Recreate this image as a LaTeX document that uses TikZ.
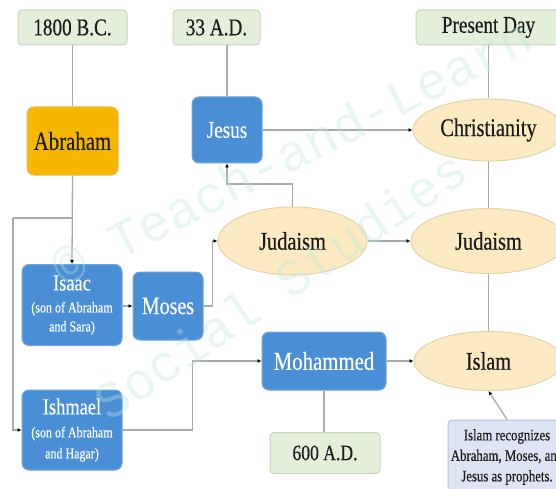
\documentclass[tikz,border=0pt]{standalone}
\usepackage{fontspec}
\setmainfont{Liberation Serif}[FakeStretch=0.8,FakeBold=0.4]
\newfontfamily\wmfont{Liberation Mono}
\usetikzlibrary{arrows.meta,shapes.geometric}
\definecolor{boxblue}{RGB}{74,142,214}
\definecolor{boxblueedge}{RGB}{112,166,224}
\definecolor{abrfill}{RGB}{247,182,0}
\definecolor{abredge}{RGB}{236,186,70}
\definecolor{ellfill}{RGB}{252,235,194}
\definecolor{elledge}{RGB}{226,212,172}
\definecolor{datefill}{RGB}{228,239,218}
\definecolor{dateedge}{RGB}{200,214,192}
\definecolor{notefill}{RGB}{222,228,244}
\definecolor{noteedge}{RGB}{182,194,224}
\definecolor{linegray}{RGB}{170,170,170}
\definecolor{wmcol}{RGB}{190,228,218}
\definecolor{darktext}{RGB}{28,28,28}
\begin{document}
\begin{tikzpicture}[x=1pt,y=-1pt,
  person/.style={rectangle, rounded corners=7pt, fill=boxblue, draw=boxblueedge, line width=1pt, text=white, align=center, inner sep=0pt},
  abr/.style={rectangle, rounded corners=7pt, fill=abrfill, draw=abredge, line width=1pt, text=darktext, inner sep=0pt},
  datebox/.style={rectangle, rounded corners=4pt, fill=datefill, draw=dateedge, line width=1pt, text=darktext, inner sep=0pt, font=\fontsize{24}{28}\selectfont},
  relig/.style={ellipse, fill=ellfill, draw=elledge, line width=1pt, text=darktext, inner sep=0pt, font=\fontsize{25.5}{30}\selectfont},
  notebox/.style={rectangle, rounded corners=4pt, fill=notefill, draw=noteedge, line width=1pt, text=darktext, align=center, inner sep=0pt, font=\fontsize{16}{20.5}\selectfont},
  link/.style={draw=linegray, line width=1.3pt, -{Latex[length=4pt,width=4pt,color=black]}},
  plainline/.style={draw=linegray, line width=1.3pt},
  wm/.style={text=wmcol, text opacity=0.35, font=\wmfont\fontsize{52}{60}\selectfont, inner sep=0pt}
]
\useasboundingbox (0,0) rectangle (556,489);
\begin{scope}
\clip (0,0) rectangle (556,489);
\fill[white] (0,0) rectangle (556,489);

% date boxes
\node[datebox, minimum width=109pt, minimum height=35pt] (d1800) at (72.5,27.5) {1800 B.C.};
\node[datebox, minimum width=87pt, minimum height=35pt] (d33) at (216.5,27.5) {33 A.D.};
\node[datebox, minimum width=145pt, minimum height=35pt] (dpres) at (488.5,27.5) {Present Day};
\node[datebox, minimum width=110pt, minimum height=41pt, font=\fontsize{22}{26}\selectfont] (d600) at (325,453) {600 A.D.};

% people
\node[abr, minimum width=91pt, minimum height=68pt, font=\fontsize{26}{30}\selectfont] (abraham) at (72.5,141) {Abraham};
\node[person, minimum width=70pt, minimum height=66pt, font=\fontsize{24}{28}\selectfont] (jesus) at (227,130) {Jesus};
\node[person, minimum width=100pt, minimum height=81pt, font=\fontsize{15}{19}\selectfont] (isaac) at (72,305) {{\fontsize{23}{26}\selectfont Isaac}\\[3pt](son of Abraham\\and Sara)};
\node[person, minimum width=70pt, minimum height=68pt, font=\fontsize{25}{28}\selectfont] (moses) at (168,306) {Moses};
\node[person, minimum width=124pt, minimum height=58pt, font=\fontsize{26}{30}\selectfont] (mohammed) at (324,361) {Mohammed};
\node[person, minimum width=100pt, minimum height=80pt, font=\fontsize{15}{21}\selectfont] (ishmael) at (72,430) {{\fontsize{23}{26}\selectfont Ishmael}\\[2pt](son of Abraham\\and Hagar)};

% religions
\node[relig, minimum width=151pt, minimum height=62pt] (christianity) at (488.5,130) {Christianity};
\node[relig, minimum width=149pt, minimum height=68pt] (judaism1) at (292.5,241) {Judaism};
\node[relig, minimum width=155pt, minimum height=65pt] (judaism2) at (488.5,241) {Judaism};
\node[relig, minimum width=149pt, minimum height=59pt] (islam) at (488.5,361) {Islam};

% note
\node[notebox, minimum width=118pt, minimum height=74pt] (note) at (507,457) {Islam recognizes\\Abraham, Moses, and\\Jesus as prophets.};

% connectors
\coordinate (br) at (72.5,218);
\coordinate (lft) at (13,218);
\coordinate (jj) at (227,184);
\draw[plainline] (d1800) -- (abraham);
\draw[link] (abraham.south) -- (isaac.north);
\draw[plainline] (br) -- (lft);
\draw[link] (lft) |- (ishmael.west);
\draw[link] (isaac.east |- moses.west) -- (moses.west);
\draw[link] (moses.east) -- ++(9,0) |- (judaism1.west);
\draw[link] (judaism1.north) |- (jj) -- (jesus.south);
\draw[plainline] (d33.south -| jesus.north) -- (jesus.north);
\draw[link] (jesus.east) -- (christianity.west);
\draw[link] (judaism1.east) -- (judaism2.west);
\draw[plainline] (dpres.south) -- (christianity.north);
\draw[plainline] (christianity.south) -- (judaism2.north);
\draw[plainline] (judaism2.south) -- (islam.north);
\draw[link] (ishmael.east) -- ++(70,0) |- (mohammed.west);
\draw[link] (mohammed.east) -- (islam.west);
\draw[plainline] (mohammed.south) -- (mohammed.south |- d600.north);
\draw[link] (note.north) -- (islam.south);

% watermark
\node[wm, rotate=27] (wm1) at (292,152) {© Teach-and-Learn};
\node[wm, rotate=34] (wm2) at (280,285) {Social Studies};
\end{scope}
\end{tikzpicture}
\end{document}
